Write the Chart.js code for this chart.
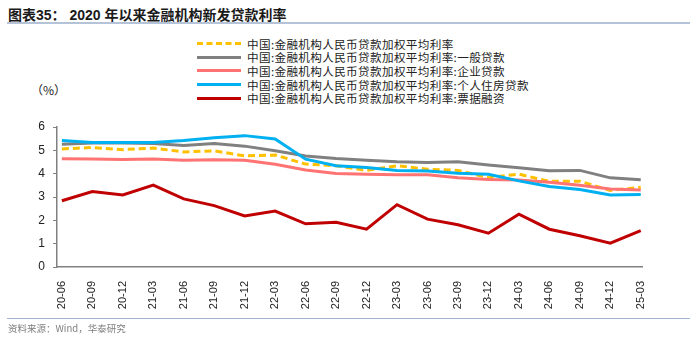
<!DOCTYPE html>
<html>
<head>
<meta charset="utf-8">
<script src="https://cdn.jsdelivr.net/npm/chart.js@4"></script>
<style>
  body { margin: 0; background: #fff; width: 700px; height: 342px; position: relative; overflow: hidden;
         font-family: "Liberation Sans", "Noto Sans CJK SC", sans-serif; }
  .title { position: absolute; left: 8px; top: 4px; font-size: 14px; font-weight: bold; color: #1a1a1a;
           font-family: "Liberation Sans", "Noto Sans CJK SC", sans-serif; }
  .rule { position: absolute; left: 7px; width: 683px; height: 2px; background: #b4c3d8; }
  .legend { position: absolute; left: 197px; top: 37px; }
  .legend .item { height: 13.6px; display: flex; align-items: center; font-size: 11.6px; color: #222;
                  font-family: "Noto Sans CJK SC", sans-serif; letter-spacing: 0.35px; }
  .legend .swatch { width: 44px; height: 0; margin-right: 6px; }
  .unit { position: absolute; left: 31px; top: 81px; font-size: 12px; color: #222; font-family: "Noto Sans CJK SC", sans-serif; }
  .source { position: absolute; left: 8px; top: 321px; font-size: 9.5px; color: #7f7f7f; font-family: "Noto Sans CJK SC", sans-serif; }
  #wrap { position: absolute; left: 0; top: 100px; width: 660px; height: 225px; }
</style>
</head>
<body>
<div class="title">图表35： 2020 年以来金融机构新发贷款利率</div>
<div class="rule" style="top:22px"></div>
<div class="legend" id="legend"></div>
<div class="unit">（%）</div>
<div id="wrap"><canvas id="chart"></canvas></div>
<div class="rule" style="top:318px; height:1px; background:#9fb3cf"></div>
<div class="source">资料来源：Wind，华泰研究</div>

<script>
// quarterly data, 2020-06 .. 2025-03
const quarters = ['20-06','20-09','20-12','21-03','21-06','21-09','21-12','22-03','22-06','22-09',
                  '22-12','23-03','23-06','23-09','23-12','24-03','24-06','24-09','24-12','25-03']

const weightedAvg = [5.06,5.12,5.03,5.10,4.93,4.98,4.76,4.80,4.41,4.34,4.14,4.34,4.19,4.14,3.83,3.98,3.67,3.68,3.28,3.42]
const generalLoans = [5.26,5.31,5.31,5.29,5.21,5.29,5.18,4.98,4.76,4.65,4.57,4.51,4.48,4.51,4.37,4.25,4.12,4.14,3.82,3.74]
const corporateLoans = [4.64,4.63,4.61,4.63,4.58,4.60,4.57,4.40,4.16,4.01,3.97,3.95,3.95,3.82,3.75,3.73,3.63,3.50,3.34,3.30]
const mortgageLoans = [5.42,5.34,5.34,5.34,5.42,5.54,5.63,5.49,4.62,4.34,4.26,4.14,4.11,4.02,3.97,3.69,3.45,3.32,3.09,3.11]
const billFinancing = [2.84,3.23,3.09,3.51,2.92,2.63,2.19,2.40,1.85,1.92,1.62,2.67,2.05,1.81,1.45,2.26,1.62,1.34,1.02,1.56]

const seriesNames = [
  '中国:金融机构人民币贷款加权平均利率',
  '中国:金融机构人民币贷款加权平均利率:一般贷款',
  '中国:金融机构人民币贷款加权平均利率:企业贷款',
  '中国:金融机构人民币贷款加权平均利率:个人住房贷款',
  '中国:金融机构人民币贷款加权平均利率:票据融资'
]
const seriesValues = [weightedAvg, generalLoans, corporateLoans, mortgageLoans, billFinancing]
const colors = ['#ffc000', '#808080', '#ff7373', '#00b0f0', '#c00000']
const dashes = [[7, 4], [], [], [], []]

// draw the legend by hand, the chart's own legend sits in a column far from the plot
const legend = document.getElementById('legend')
seriesNames.forEach((name, i) => {
  const row = document.createElement('div')
  row.className = 'item'
  const border = dashes[i].length ? 'dashed' : 'solid'
  row.innerHTML = `<span class="swatch" style="border-top:3px ${border} ${colors[i]}"></span>${name}`
  legend.appendChild(row)
})

const datasets = seriesNames.map((name, i) => ({
  label: name,
  data: seriesValues[i].map((v, k) => ({x: k, y: v})),
  borderColor: colors[i],
  backgroundColor: colors[i],
  borderWidth: 3,
  borderDash: dashes[i],
  pointRadius: 0,
  tension: 0,
  order: 4 - i
}))

new Chart(document.getElementById('chart'), {
  type: 'line',
  data: { datasets },
  options: {
    responsive: true,
    maintainAspectRatio: false,
    animation: false,
    layout: { padding: { top: 27, right: 15, left: 0, bottom: 0 } },
    plugins: { legend: { display: false }, tooltip: { enabled: false } },
    scales: {
      x: {
        type: 'linear',
        min: -0.16,
        max: 19.07,
        afterBuildTicks: (scale) => { scale.ticks = quarters.map((_, i) => ({value: i})) },
        afterFit: (scale) => { scale.height = 58 },
        grid: { display: false },
        border: { color: '#808080', width: 1.5 },
        ticks: {
          autoSkip: false,
          maxRotation: 90,
          minRotation: 90,
          padding: 6,
          color: '#222',
          font: { family: 'Liberation Sans', size: 11 },
          callback: (v) => quarters[v]
        }
      },
      y: {
        min: 0,
        max: 6,
        afterFit: (scale) => { scale.width = 57 },
        grid: { drawOnChartArea: false, tickLength: 4, color: '#808080' },
        border: { color: '#808080', width: 1.5 },
        ticks: {
          stepSize: 1,
          padding: 8,
          color: '#222',
          font: { family: 'Liberation Sans', size: 12 }
        }
      }
    }
  }
})
</script>
</body>
</html>
